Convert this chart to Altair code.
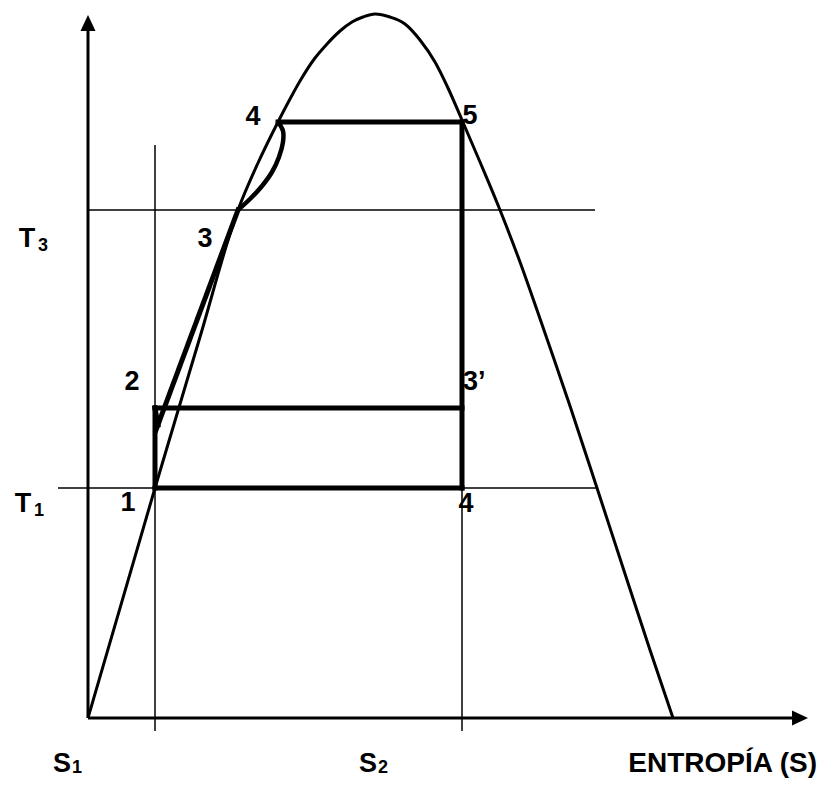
import altair as alt
import pandas as pd

# Saturation dome (entropy units, temperature units; origin at the axes' corner)
dome_s = [0, 67, 112, 150, 170, 190, 202, 212, 227, 239, 252, 264, 275, 287,
          302, 317, 332, 347, 360, 374, 392, 412, 432, 449, 467, 482, 509, 540, 562, 585]
dome_t = [0, 230, 381, 508, 555, 596, 619, 637, 660, 674, 687, 696, 701, 704,
          701, 694, 678, 656, 630, 598, 556, 508, 456, 408, 356, 312, 230, 135, 68, 0]

# Curved process 3 -> 4 (ordered)
curve_s = [150, 162, 174, 184, 191, 195, 195, 190]
curve_t = [508, 519, 532, 546, 561, 576, 587, 596]

# Thick cycle segments: s1, t1, s2, t2
thick_s1 = [190, 374, 67, 67, 67, 68, 67]
thick_t1 = [596, 596, 310, 230, 310, 288, 310]
thick_s2 = [374, 374, 374, 374, 67, 150, 70]
thick_t2 = [596, 230, 310, 230, 230, 508, 293]

# Thin guide lines
thin_s1 = [67, 374, 0, -30]
thin_t1 = [-13, -13, 508, 230]
thin_s2 = [67, 374, 507, 510]
thin_t2 = [573, 596, 508, 230]

# Axes
axis_s1 = [0, 0]
axis_t1 = [0, 0]
axis_s2 = [0, 707]
axis_t2 = [690, 0]

# Arrow heads
arrow_s = [0, 712]
arrow_t = [695, 0]
arrow_shape = ["M0,-1L0.94,1L-0.94,1Z", "M1,0L-1,0.94L-1,-0.94Z"]

# Labels
lab_text = ["4", "5", "3", "2", "1", "4", "T", "T", "S", "S"]
lab_s = [165, 382, 117, 44, 40, 378, -61, -65, -26, 280]
lab_t = [601, 602, 479, 336, 215, 214, 479, 214, -46, -46]

sub_text = ["3", "1", "1", "2"]
sub_s = [-45, -49, -11, 295]
sub_t = [472, 207, -50, -50]

xs = alt.Scale(domain=[-80, 731], nice=False, zero=False)
ys = alt.Scale(domain=[-61, 710], nice=False, zero=False)
X = lambda f: alt.X(f, type="quantitative", scale=xs, axis=None)
Y = lambda f: alt.Y(f, type="quantitative", scale=ys, axis=None)

dome = pd.DataFrame({"s": dome_s, "t": dome_t})
curve = pd.DataFrame({"s": curve_s, "t": curve_t, "o": list(range(len(curve_s)))})
thick = pd.DataFrame({"s1": thick_s1, "t1": thick_t1, "s2": thick_s2, "t2": thick_t2})
thin = pd.DataFrame({"s1": thin_s1, "t1": thin_t1, "s2": thin_s2, "t2": thin_t2})
axes = pd.DataFrame({"s1": axis_s1, "t1": axis_t1, "s2": axis_s2, "t2": axis_t2})
arrows = pd.DataFrame({"s": arrow_s, "t": arrow_t, "shape": arrow_shape})
labels = pd.DataFrame({"txt": lab_text, "s": lab_s, "t": lab_t})
subs = pd.DataFrame({"txt": sub_text, "s": sub_s, "t": sub_t})
prime = pd.DataFrame({"txt": ["3’"], "s": [375], "t": [336]})
title = pd.DataFrame({"txt": ["ENTROPÍA (S)"], "s": [729], "t": [-46]})

font = "Liberation Sans"

l_thin = alt.Chart(thin).mark_rule(color="black", strokeWidth=1.5).encode(
    x=X("s1"), y=Y("t1"), x2="s2", y2="t2")
l_axes = alt.Chart(axes).mark_rule(color="black", strokeWidth=3).encode(
    x=X("s1"), y=Y("t1"), x2="s2", y2="t2")
l_arrows = alt.Chart(arrows).mark_point(filled=True, color="black", size=256, opacity=1).encode(
    x=X("s"), y=Y("t"), shape=alt.Shape("shape:N", scale=None, legend=None))
l_dome = alt.Chart(dome).mark_line(color="black", strokeWidth=3, interpolate="monotone").encode(
    x=X("s"), y=Y("t"))
l_curve = alt.Chart(curve).mark_line(color="black", strokeWidth=4.5, interpolate="catmull-rom").encode(
    x=X("s"), y=Y("t"), order="o:Q")
l_thick = alt.Chart(thick).mark_rule(color="black", strokeWidth=5, strokeCap="square").encode(
    x=X("s1"), y=Y("t1"), x2="s2", y2="t2")
l_labels = alt.Chart(labels).mark_text(font=font, fontWeight="bold", fontSize=27, color="black",
                                       align="center", baseline="middle").encode(
    x=X("s"), y=Y("t"), text="txt:N")
l_subs = alt.Chart(subs).mark_text(font=font, fontWeight="bold", fontSize=18, color="black",
                                   align="center", baseline="middle").encode(
    x=X("s"), y=Y("t"), text="txt:N")
l_prime = alt.Chart(prime).mark_text(font=font, fontWeight="bold", fontSize=27, color="black",
                                     align="left", baseline="middle").encode(
    x=X("s"), y=Y("t"), text="txt:N")
l_title = alt.Chart(title).mark_text(font=font, fontWeight="bold", fontSize=28, color="black",
                                     align="right", baseline="middle").encode(
    x=X("s"), y=Y("t"), text="txt:N")

chart = alt.layer(l_thin, l_axes, l_arrows, l_dome, l_curve, l_thick,
                  l_labels, l_subs, l_prime, l_title).properties(
    width=811, height=771, autosize="none", padding=0, background="white"
).configure_view(stroke=None)

chart.save("out.html", embed_options={"renderer": "svg", "actions": False})
